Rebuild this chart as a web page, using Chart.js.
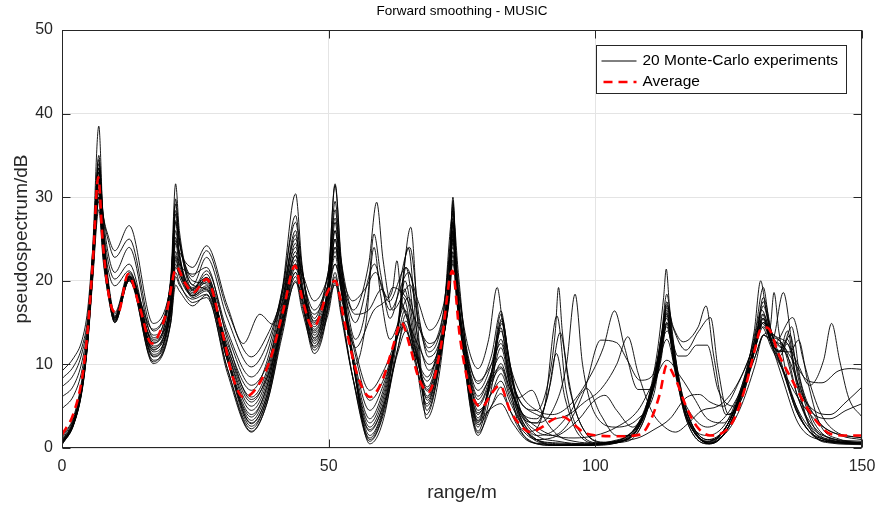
<!DOCTYPE html>
<html>
<head>
<meta charset="utf-8">
<title>Forward smoothing - MUSIC</title>
<script src="https://cdn.jsdelivr.net/npm/chart.js@4.4.1/dist/chart.umd.min.js"></script>
<style>
  html, body { margin: 0; padding: 0; background: #fff; }
</style>
</head>
<body>
<canvas id="music" width="878" height="509"></canvas>
<script>
/* ---------- data: [range in m, pseudospectrum in dB] ---------- */
const titleText = 'Forward smoothing - MUSIC';
const xTitle = 'range/m';
const yTitle = 'pseudospectrum/dB';
const seriesNames = ['20 Monte-Carlo experiments', 'Average'];
const xTicks = [0, 50, 100, 150];
const yTicks = [0, 10, 20, 30, 40, 50];

const mc01 = [[0,9.2],[2.2,10.8],[3.8,13],[4.8,16.5],[5.8,24],[6.9,33],[7.7,28],[8.6,25.5],[9.9,23.6],[12.6,26.6],[17.1,14.9],[20.4,19.5],[21.3,24.8],[22,23.5],[24.5,21.6],[27.1,24.2],[31,17],[34,12.5],[37.1,16],[39.5,14.8],[41.3,17.5],[43.8,23],[45,21],[47.3,17.6],[49.9,20.5],[51.2,24],[52.3,21],[54.5,17.6],[56.8,19],[58.8,21],[61.3,17.5],[64.5,21.6],[66.8,17.5],[68.9,14.1],[71.5,17],[73.3,24],[74.3,19],[76,12.5],[78,9.5],[80,13],[81.6,19.2],[82.6,15],[84,10],[86,6.5],[89,4.5],[92,4],[95,5],[98.5,8],[101.5,12],[103.6,16.4],[105.5,12],[108,7],[110.5,7],[113.4,13],[115.5,7.5],[118,4],[121,2.5],[124,3.5],[127,6.5],[130,11],[131.5,13.5],[133.5,12.5],[137,15.6],[139,10.5],[142,4.5],[145,2],[150,1.2]];
const mc02 = [[0,8.3],[2.2,9.8],[3.8,12.2],[4.8,15.5],[5.8,23.5],[6.9,34],[7.7,28],[8.6,25],[9.9,22.8],[12.6,25],[17.1,14],[20.4,20],[21.3,27.2],[22,24.5],[24.5,20.5],[27.1,23.6],[31,16.5],[35.5,10.9],[38.5,13.5],[41.3,18],[43.8,24],[45,20.5],[47.3,16.5],[49.9,19.5],[51.2,22],[52.3,20],[55,15],[58.6,22],[60,19],[61.5,16.5],[65,21],[67,15],[68.7,12],[71.3,15.5],[73.3,25],[74.3,19],[76,11.5],[78,7.7],[80.5,11],[82.3,16.4],[83.5,12],[85.5,6],[88.1,6.9],[90.5,3.5],[93,1.5],[96,0.8],[100,0.6],[104,0.8],[108,1.2],[111,2.2],[114,3.5],[117,6],[119.5,6.4],[121.5,5.5],[124,5],[127,8],[130,13],[131.3,16],[133,13],[135.5,12],[138,6],[141,2.5],[145,1],[150,0.6]];
const mc03 = [[0,7.3],[2.2,8.8],[3.8,11.5],[4.8,15],[5.8,23.5],[6.9,35],[7.7,28],[8.6,23.5],[9.9,21],[12.6,24],[17.1,13.2],[20.4,20],[21.3,28.4],[22,25],[24.5,19.5],[27.1,22.8],[31,15.5],[35.5,9.7],[38.5,12.5],[41.3,18.5],[43.8,25],[45,21],[47.3,15.5],[49.9,21],[51.2,26],[52.3,22],[55,13],[57.3,18],[58.5,25.6],[59.7,21],[61.5,15.5],[65.2,24],[67,15.5],[68.7,10.9],[71.5,15],[73.3,26.5],[74.3,20],[76,11],[78,6.9],[80.5,10],[82.5,15.2],[84,10],[86,4.5],[89,2],[92,1.5],[95,3],[98,7],[101,12.9],[104,12.6],[106,10.5],[108.4,8.1],[110.5,8.5],[113.5,14],[115.5,8],[118,3],[121,1],[124,1.5],[127,4.5],[130,10],[131.5,13.5],[133.2,13],[135.25,18.6],[137,12],[140,4.5],[143,1.5],[147,0.8],[150,0.7]];
const mc04 = [[0,6.1],[2.2,7.5],[3.8,10.5],[4.8,14.5],[5.8,23],[6.9,33.5],[7.7,27],[8.6,22.5],[9.9,20.2],[12.6,22],[17.1,12.5],[20.4,20],[21.3,29.2],[22,25],[24.5,19],[27.1,21.2],[31,14],[35.5,8.5],[38.5,11.5],[41.3,19],[43.8,27],[45,21.5],[47.3,15],[49.9,21],[51.2,27.5],[52.3,22.5],[54.6,16.5],[57.5,22],[59,29.4],[60.2,22.5],[62,16.5],[65.3,19.5],[67,14.5],[68.8,11.5],[71.5,16],[73.3,28],[74.3,21],[76,10.5],[78,5.3],[80.5,9],[82.5,14.9],[84,9.5],[86,4.5],[89,3],[92,4.5],[94.6,10],[96.2,18.4],[97.6,10],[100,4],[104,2.5],[108,3.5],[111,6.5],[113.4,15],[115.5,11],[117,11],[119,12.3],[121,12.3],[123,7],[126,5],[129,10],[131.2,16.5],[133,13.5],[135,12.5],[137.5,7],[140,3],[144,1.2],[150,0.8]];
const mc05 = [[0,4.7],[2.2,6.3],[3.8,9.5],[4.8,14],[5.8,22.5],[6.9,32.5],[7.7,26],[8.6,21.5],[9.9,19.4],[12.6,21.2],[17.1,11.7],[20.4,17],[21.3,22.8],[22,21],[24.5,18.2],[27.1,20.4],[31,13.5],[35.5,7.5],[38.5,10],[41.3,16.5],[43.8,22],[45,19],[47.3,14.5],[49.9,17.5],[51.2,19.5],[52.5,17.5],[55,12],[58.5,16.5],[60.5,17.5],[62,19],[62.8,22.4],[63.6,18],[65,15],[67,12],[68.8,10],[71.5,14],[73.3,23],[74.3,17.5],[76,11],[78,8],[80.5,10],[82.3,12.5],[84,8.5],[86,5.5],[89,4],[92,3.5],[95,4],[98,5.5],[101,7],[104,10],[106.1,13.3],[108,9],[110.5,4.5],[113,2.5],[115,1.9],[117.5,3],[120,4.5],[123,5],[126,7],[129,11],[131,15],[132.5,14],[135,12.5],[137.5,10],[140,8],[142.5,7.8],[145.5,9.2],[148,9.5],[150,9.4]];
const mc06 = [[0,1.4],[2.2,3.8],[3.8,8.5],[4.8,14],[5.8,24.5],[6.9,38.5],[7.7,27],[8.6,20.5],[9.9,16.2],[12.6,21],[17.1,13.5],[20.4,20.5],[21.3,31.6],[22,26],[24.5,20],[27.1,19.6],[31,12.5],[35.5,6.9],[38.5,10.5],[41.3,19],[43.8,30.4],[45,22],[47.3,13.5],[49.9,20],[51.2,31.6],[52.3,23],[54.5,11],[57.7,0.5],[60.5,4],[63,14],[65.4,26.4],[66.8,14],[68.3,3.5],[71,10],[72.6,21],[73.3,30],[74,21],[75.5,10],[78,1.5],[80.5,7],[82.3,14.4],[83.6,9],[85.5,3],[88,0.8],[92,0.3],[97,0.3],[102,0.5],[106,1.5],[109,4],[111.5,11],[112.8,18],[113.3,21.4],[113.9,17],[115.5,9],[118,3],[121.5,0.5],[124.5,2],[127.5,7],[129.8,14],[131,20],[132,16.5],[134,11.5],[136,8],[139,3],[143,0.8],[150,0.5]];
const mc07 = [[0,1.2],[2.2,3.6],[3.8,8],[4.8,13.5],[5.8,23],[6.9,33],[7.7,26],[8.6,20],[9.9,16],[12.6,20.6],[17.1,12.8],[20.4,19.5],[21.3,29.8],[22,25],[24.5,19.5],[27.1,19],[31,12],[35.5,6.1],[38.5,9.5],[41.3,18.5],[43.8,27.8],[45,21.5],[47.3,13],[49.9,20],[51.2,31.4],[52.3,22.5],[54.5,10.5],[57.7,1],[60.5,5],[63,15],[64.9,24],[66.5,14],[68.4,4.5],[71,11],[72.6,20],[73.3,29],[74,20.5],[75.5,10.5],[78,2],[80.5,8.5],[82.3,16],[83.6,10],[85.5,4],[88,2],[90.5,5],[92.8,15.8],[94.5,7],[97,2],[101,0.6],[106,1],[109.5,4.5],[112,11],[113.4,14.5],[114.8,10],[117,4],[121,0.8],[124.5,2.5],[127.5,7.5],[130,14],[131.5,19.2],[132.6,15],[134.5,11],[137,6],[140,2.5],[144,0.8],[150,0.6]];
const mc08 = [[0,1],[2.2,3.4],[3.8,7.8],[4.8,13.5],[5.8,22.5],[6.9,32],[7.7,25],[8.6,19.5],[9.9,15.8],[12.6,20.5],[17.1,12],[20.4,16.5],[21.3,21.6],[22,20.8],[24.5,18.8],[27.1,20],[31,12],[35.5,5.5],[38.5,9],[41.3,17.5],[43.8,26],[45,20],[47.3,12.5],[49.9,19],[51.2,29.5],[52.3,21.5],[54.5,10.5],[57.7,1.5],[60.5,5.5],[63,14.5],[64.5,21.6],[66.3,13.5],[68.4,5],[71,11],[72.6,19.5],[73.3,28.5],[74,20],[75.5,10.5],[78,2.5],[80.5,9],[82.5,15.5],[84,9.5],[86,3.5],[89,1],[93,0.5],[98,0.4],[103,0.6],[107,1.8],[110,5.5],[112.3,13],[113.4,18.4],[114.5,13],[116.5,5],[119,1.5],[121.5,0.6],[124.5,2],[127.5,6.5],[130,12.5],[131.5,17.5],[133.2,12.5],[134.5,11.5],[136,14],[137.5,9],[140,3],[144,1],[150,0.5]];
const mc09 = [[0,0.9],[2.2,3.3],[3.8,7.8],[4.8,13.2],[5.8,22],[6.9,31.5],[7.7,25],[8.6,19.5],[9.9,15.6],[12.6,20.4],[17.1,11.2],[20.4,17.5],[21.3,27],[22,23],[24.5,18],[27.1,18.8],[31,11.5],[35.5,5],[38.5,8.5],[41.3,17],[43.8,25.5],[45,19.5],[47.3,12],[49.9,18.5],[51.2,28.5],[52.3,21],[54.5,10.5],[57.7,2],[60.5,6],[63,14.5],[64.3,20],[66.2,13],[68.5,5.7],[71,11.5],[72.6,19],[73.3,27.5],[74,19.5],[75.5,11],[78,3],[80.5,9],[82.3,14],[84,9],[86.5,5],[89,4.5],[91.5,9],[92.5,14],[93.1,19.2],[93.8,14],[95.5,6.5],[98,2],[102,0.6],[106,0.8],[109.5,4],[112,11],[113.4,16.8],[114.8,11.5],[117,4.5],[121,0.8],[124.5,2.5],[127.5,7],[130,12.5],[131.3,15.5],[133,12.5],[134.5,11.5],[136,13],[138,7.5],[141,4.5],[144,4],[147,5.5],[150,7.3]];
const mc10 = [[0,0.8],[2.2,3.2],[3.8,7.6],[4.8,13],[5.8,23.5],[6.9,34.5],[7.7,26.5],[8.6,20],[9.9,15.5],[12.6,20.6],[17.1,10.9],[20.4,16.5],[21.3,24.5],[22,22],[24.5,19],[27.1,20.2],[31,11.5],[35.5,4.5],[38.5,8],[41.3,16.5],[43.8,24.5],[45,18.5],[47.3,11.7],[49.9,17.5],[51.2,27],[52.3,20],[54.5,10.5],[57.7,2.5],[60.5,6.5],[63,14.5],[64.2,19],[66,13],[68.5,6.2],[71,12],[72.6,19],[73.3,27],[74,19.5],[75.5,11],[78,3.3],[80.5,8.5],[82.3,13],[84,8],[86.5,3.5],[89,3],[91.5,7.5],[93.4,13.8],[95.2,7],[98,2],[102,0.7],[106,1],[109.5,4.5],[112,11],[113.4,17.2],[114.6,14.5],[116.5,12.7],[119.3,14.5],[120.75,17],[122.2,11],[124.5,4],[127.5,6],[130,12],[131.5,16],[133,13],[135,9.5],[138,4],[142,1.2],[150,0.6]];
const mc11 = [[0,0.7],[2.2,3.1],[3.8,7.5],[4.8,13],[5.8,22],[6.9,31],[7.7,24.5],[8.6,19.5],[9.9,15.3],[12.6,20.3],[17.1,10.5],[20.4,15.5],[21.3,22.5],[22,21],[24.5,18.4],[27.1,19.4],[31,11],[35.5,4],[38.5,7.5],[41.3,16],[43.8,23.5],[45,18],[47.3,11.3],[49.9,17],[51.2,26],[52.3,19.5],[54.5,10.5],[57.7,3],[60.5,7],[63,14.5],[64,18],[65.8,13],[68.5,6.8],[71,12],[72.6,18.5],[73.3,26],[74,19],[75.5,11],[78,3.6],[80.5,8],[82.3,12],[84,7.5],[86.5,3],[89,1],[93,0.4],[98,0.4],[103,0.7],[107,2],[110,6],[112.3,12.5],[113.4,17.5],[114.5,12.5],[116.5,5],[119,1.5],[121.5,0.6],[124.5,2.5],[127.5,7],[130,12.5],[131.5,17],[133.2,12.5],[134.8,11.5],[136.5,13.5],[138,8.5],[141,2.5],[145,0.8],[150,0.5]];
const mc12 = [[0,0.6],[2.2,3],[3.8,7.4],[4.8,12.8],[5.8,21.5],[6.9,30.5],[7.7,24],[8.6,19.5],[9.9,15.2],[12.6,20.2],[17.1,10.1],[20.4,15],[21.3,20.5],[22,19.5],[24.5,17.8],[27.1,18.4],[31,10.5],[35.5,3.7],[38.5,7.5],[41.3,15.5],[43.8,22.5],[45,19],[47.3,13.8],[49.9,18],[51.2,25],[52.3,19],[54.5,11],[57.7,3.5],[60.5,7.5],[63,14.5],[63.8,17],[65.8,12.5],[68.5,7.3],[71,12.5],[72.6,18.5],[73.3,25.5],[74,18.5],[75.5,11],[78,4],[80.5,7.5],[82.3,10.1],[84,7],[86.5,4],[89,3.5],[91,6],[92.7,11.3],[94.3,6],[97,1.5],[101,0.5],[105,0.8],[109,3.5],[112,10],[113.4,15.8],[114.8,10.5],[117,4],[121,0.7],[124.5,2.5],[127.5,6.5],[130,11],[131.5,13.5],[132.8,14.5],[133.5,18.6],[134.4,14],[136.5,7],[139.5,2.5],[143,0.8],[150,0.5]];
const mc13 = [[0,0.6],[2.2,3],[3.8,7.5],[4.8,13],[5.8,22.5],[6.9,32.5],[7.7,25.5],[8.6,20],[9.9,15.4],[12.6,20.5],[17.1,11.5],[20.4,16.5],[21.3,23.5],[22,21.5],[24.5,18.6],[27.1,19.8],[31,11],[35.5,3.3],[38.5,7],[41.3,15],[43.8,22],[45,19],[47.3,14.2],[49.9,18.5],[51.2,24],[52.3,20],[55,10],[57,15],[58.5,24],[59.7,18.5],[61.5,13],[65,18],[67,12.5],[68.8,9.3],[71.5,14],[73.3,24.5],[74.3,18],[76,10],[78,4.5],[80.5,6.5],[82.3,8.9],[84,6],[86.5,2.5],[89,0.8],[93,0.4],[98,0.4],[103,0.6],[107,1.8],[110,5.5],[112.3,12],[113.4,17],[114.5,14.5],[117,11.7],[119.3,13.9],[121.6,15.6],[123,9.5],[125,4],[127.5,6],[130,12],[131.5,15.5],[133,12.5],[135,9.5],[138,4],[142,1.2],[150,0.6]];
const mc14 = [[0,0.5],[2.2,2.9],[3.8,7.2],[4.8,12.5],[5.8,21],[6.9,30],[7.7,23.5],[8.6,19],[9.9,15],[12.6,20.1],[17.1,12.2],[20.4,18],[21.3,26],[22,23],[24.5,18.9],[27.1,20.8],[31,11],[35.5,2.9],[38.5,6.5],[41.3,15],[43.8,21.5],[45,19],[47.3,14.8],[49.9,18.5],[51.2,23],[52.3,19],[54.5,12.5],[57.7,5.7],[60.5,8.5],[63,13.5],[64,15],[66,11.5],[68.5,8],[71,13],[72.6,18],[73.3,23.5],[74,18],[75.5,11.5],[78,5],[80.5,8],[82.3,9.5],[84,6.5],[86.5,3],[89,1.5],[92,2],[95,4],[98.4,7.1],[101,4],[104,1.5],[107,1.5],[110,5],[112.3,11.5],[113.4,16.2],[114.5,12],[116.5,5],[119,1.5],[121.5,0.7],[124.5,2.5],[127.5,7],[130,12.5],[131.5,15],[133.5,13],[136,11],[138.5,7],[141,4],[144,3.5],[147,4.5],[150,5.3]];
const mc15 = [[0,0.5],[2.2,2.9],[3.8,7.3],[4.8,13],[5.8,23],[6.9,33.5],[7.7,26],[8.6,20],[9.9,15.7],[12.6,20.8],[17.1,12.6],[20.4,18],[21.3,25.2],[22,22.5],[24.5,19.2],[27.1,20.4],[31,10.5],[35.5,2.6],[38.5,6],[41.3,14.5],[43.8,21],[45,19],[47.3,15.2],[49.9,18.5],[51.2,22],[52.3,19],[54.5,13],[57.7,6.9],[60.5,9.5],[63,13.5],[64,14.5],[66,11.5],[68.5,8.5],[71,13],[72.6,17.5],[73.3,22.5],[74,17.5],[75.5,12],[78,5.8],[80.5,9],[82.3,11],[84,7.5],[86.5,3.5],[89,1.5],[93,0.8],[98,0.5],[103,0.7],[107,2],[110,5.5],[112.3,11.5],[113.4,16.5],[114.5,12],[116.5,5],[119,1.5],[121.5,0.5],[124.5,2],[127.5,6.5],[130,12],[131.5,15.5],[133,12.5],[135,8.5],[138,3],[142,1],[150,0.5]];
const mc16 = [[0,0.4],[2.2,2.8],[3.8,7],[4.8,12.5],[5.8,21],[6.9,29.5],[7.7,23],[8.6,18.5],[9.9,15.1],[12.6,20],[17.1,11.8],[20.4,16],[21.3,21],[22,19.8],[24.5,17.4],[27.1,18],[31,9.5],[35.5,2.3],[38.5,6],[41.3,14.5],[43.8,21],[45,17.5],[47.3,13.2],[49.9,17],[51.2,21],[52.3,17],[54.5,8.5],[57.7,0.8],[60.5,4.5],[63,12],[64.5,16],[66.3,10.5],[68.3,4],[71,11],[72.6,20.5],[73.3,29.5],[74,20.5],[75.5,10],[78,1.8],[80.5,5],[82.3,7.3],[84,4.5],[86.5,1.5],[89,0.5],[94,0.3],[99,0.3],[104,0.6],[108,2.5],[111,8],[113.4,16],[114.8,10],[117,3.5],[121,0.5],[124.5,2],[127.5,6.5],[130,12],[131.5,14.5],[133.5,12],[136.5,11.5],[138.1,12.9],[139.8,8],[142,3],[146,1],[150,0.6]];
const mc17 = [[0,0.4],[2.2,2.8],[3.8,7.2],[4.8,12.8],[5.8,22],[6.9,31],[7.7,24.5],[8.6,19.5],[9.9,15.6],[12.6,20.4],[17.1,13],[20.4,17],[21.3,22],[22,20.5],[24.5,18.2],[27.1,19],[31,9.5],[35.5,2],[38.5,5.5],[41.3,14],[43.8,20.5],[45,17],[47.3,12.8],[49.9,16.5],[51.2,20.5],[52.3,16.5],[54.5,8.5],[57.7,1.2],[60.5,5],[63,12],[64.5,15.2],[66.3,10.5],[68.4,5.3],[71,11.5],[72.6,19],[73.3,27],[74,19],[75.5,10.5],[78,2.8],[80.5,5],[82.3,6.5],[84,4.5],[86.5,2],[89,1],[93,1.5],[97,3.5],[99.5,5.5],[101.8,6.3],[104,4.5],[107,2.5],[110,5.5],[112.3,11],[113.4,14.8],[114.8,10],[117,4],[121,1.5],[124.5,3],[127.5,7.5],[130,12.5],[131.5,15],[133.5,13.5],[136,12.5],[138,10],[140.2,7.5],[142.8,10.5],[144.3,14.9],[145.8,10.5],[147.5,6],[150,3.7]];
const mc18 = [[0,0.5],[2.2,2.9],[3.8,7],[4.8,12.3],[5.8,20.5],[6.9,28.5],[7.7,22.5],[8.6,18.5],[9.9,15],[12.6,20],[17.1,10.3],[20.4,15],[21.3,19.5],[22,18.8],[24.5,17],[27.1,18.3],[31,9],[35.5,1.9],[38.5,5.5],[41.3,13.5],[43.8,20],[45,16.5],[47.3,12.2],[49.9,16],[51.2,19.8],[52.3,16],[54.5,8.5],[57.7,2.2],[60.5,5.5],[63,11.5],[64.5,14],[66.3,10],[68.5,6],[71,11.5],[72.6,18.5],[73.3,26],[74,18.5],[75.5,10.5],[78,3.2],[80,4.5],[82.3,5.3],[84.5,3],[87,1],[90,0.5],[95,0.3],[100,0.4],[105,0.8],[108.5,3],[111,8.5],[113.4,15.5],[114.8,10],[117,3.5],[121,0.5],[124.5,2],[127.5,6.5],[130,12],[131.5,15],[133.2,12],[134.6,11],[136,12.5],[137.8,7.5],[140.5,2],[144,0.6],[150,0.4]];
const mc19 = [[0,0.6],[2.2,3],[3.8,7.5],[4.8,13],[5.8,22.5],[6.9,32],[7.7,25],[8.6,19.5],[9.9,15.5],[12.6,20.4],[17.1,14.2],[20.4,18.5],[21.3,23],[22,22],[24.5,20.8],[27.1,21.6],[31,13],[35.5,5.8],[38.5,8.5],[41.3,14.5],[43.8,19.8],[45,18.5],[47.3,16],[49.9,19.5],[51.2,23.5],[52.3,20.5],[55,16],[57.5,16.5],[60,19],[61,18],[62,19.2],[64.5,18],[66.8,14.5],[68.9,12.5],[71.5,15],[73.3,22],[74.3,17.5],[76,10.5],[78,6.2],[80,8],[82.3,9.7],[84,7],[86.5,4],[89,2.5],[92,1.5],[96,1.2],[100,1.5],[104,2.5],[108,4.5],[111,8],[113.4,10.5],[116,8.5],[118.5,6],[121,3.5],[124,3],[127.5,7],[130,12.5],[131.2,14.5],[133,12],[135,9.5],[138,6],[141,3.5],[144,2],[150,1.2]];
const mc20 = [[0,0.7],[2.2,3.1],[3.8,7.4],[4.8,12.7],[5.8,21],[6.9,30],[7.7,23.5],[8.6,19],[9.9,15.3],[12.6,20.2],[17.1,11],[20.4,18],[21.3,28],[22,23.5],[24.5,18.2],[27.1,19.2],[31,10.5],[35.5,3],[38.5,6.5],[41.3,15.5],[43.8,23],[45,19],[47.3,14],[49.9,18.5],[51.2,25],[52.3,19.5],[54.5,11.5],[57.7,4.5],[60.5,8],[63,13.5],[64.3,16.5],[66.2,12],[68.5,7],[71,12],[72.6,18],[73.3,25],[74,18.5],[75.5,11],[78,4.2],[80.5,6.5],[82.3,8],[84,5.5],[86.5,2.5],[89,1],[93,0.6],[98,0.5],[103,0.8],[107,2],[110,5.5],[112.3,10.5],[113.4,15],[114.8,10.5],[117,4.5],[121,1],[124.5,2.5],[127.5,7],[130,12.5],[131.5,18],[133.2,13.5],[135,12],[136.8,14.5],[138.5,8],[141.5,3.5],[146,1.5],[150,1]];
const avg = [[0,1.6],[2.2,4.2],[3.8,8.5],[4.8,14],[5.8,22.5],[6.8,32.4],[7.6,25],[8.6,19],[9.6,16.4],[10.5,16.2],[12.4,20.8],[14.5,17],[16.8,12.5],[19.5,16],[21.5,21.6],[23,19.8],[24.6,18.6],[27.1,20.2],[30,14],[32,8.5],[34,6.1],[36,6.8],[39,10.5],[41.5,16.5],[43.7,21.8],[45,18],[47.1,14.4],[49.9,18.8],[51.2,20],[53,15],[55.5,8.5],[57.75,6.1],[60,8],[62,12],[63.6,15],[65.3,12],[66.8,8.5],[68.7,6.7],[71,12],[73.2,21.2],[74.6,13.3],[76.5,7],[78.7,4.9],[80.5,6.5],[82.1,7.5],[84,4.5],[86,2.7],[87.75,1.9],[90,2.5],[92,3.4],[94,3.7],[96,2.8],[98,1.8],[100.3,1.5],[104,1.4],[108.4,1.6],[110.5,3.5],[112.1,6.5],[113.4,9.9],[115,8.3],[117,5],[119,2.6],[121.5,1.5],[123.5,1.7],[125.9,3.3],[128,7],[130,12],[130.9,14.1],[132.2,14.4],[134.6,10.9],[137,8],[139.6,4.9],[142,2.8],[144,1.7],[147,1.5],[150,1.5]];

const runs = [mc01, mc02, mc03, mc04, mc05, mc06, mc07, mc08, mc09, mc10,
              mc11, mc12, mc13, mc14, mc15, mc16, mc17, mc18, mc19, mc20];

/* ---------- look ---------- */
const FONT = '"Liberation Sans", Arial, Helvetica, sans-serif';
const AXIS = '#262626';
const GRID = '#e4e4e4';
const RED = '#ff0000';
const RED_DASH = [9, 6];

const datasets = runs.map(d => ({
  label: seriesNames[0],
  data: d,
  borderColor: '#000000',
  borderWidth: 0.9,
  pointRadius: 0,
  cubicInterpolationMode: 'monotone',
  order: 1
}));
datasets.push({
  label: seriesNames[1],
  data: avg,
  borderColor: RED,
  borderWidth: 2.6,
  borderDash: RED_DASH,
  pointRadius: 0,
  cubicInterpolationMode: 'monotone',
  order: 0
});

// box, inward ticks, title and legend the MATLAB way
const frame = {
  id: 'frame',
  afterDraw(chart) {
    const {ctx, chartArea: a} = chart;
    const sx = chart.scales.x, sy = chart.scales.y;
    const L = Math.round(a.left) + 0.5, R = Math.round(a.right) - 0.5;
    const T = Math.round(a.top) + 0.5, B = Math.round(a.bottom) - 0.5;
    ctx.save();
    ctx.strokeStyle = AXIS;
    ctx.lineWidth = 1;
    ctx.strokeRect(L, T, R - L, B - T);
    ctx.beginPath();
    xTicks.forEach(v => {
      const px = Math.round(sx.getPixelForValue(v)) + 0.5;
      ctx.moveTo(px, B); ctx.lineTo(px, B - 8);
      ctx.moveTo(px, T); ctx.lineTo(px, T + 8);
    });
    yTicks.forEach(v => {
      const py = Math.round(sy.getPixelForValue(v)) + 0.5;
      ctx.moveTo(L, py); ctx.lineTo(L + 8, py);
      ctx.moveTo(R, py); ctx.lineTo(R - 8, py);
    });
    ctx.stroke();

    // title
    ctx.fillStyle = '#000';
    ctx.font = '13.5px ' + FONT;
    ctx.textAlign = 'center';
    ctx.textBaseline = 'middle';
    ctx.fillText(titleText, (a.left + a.right) / 2, 11);

    // legend
    const bw = 250, bh = 48;
    const bx = Math.floor(a.right - 16 - bw) + 0.5, by = Math.round(a.top + 15) + 0.5;
    ctx.fillStyle = '#fff';
    ctx.fillRect(bx, by, bw, bh);
    ctx.strokeStyle = AXIS;
    ctx.strokeRect(bx, by, bw, bh);
    const rows = [by + 15.5, by + 36.5];
    ctx.lineWidth = 1;
    ctx.strokeStyle = '#000';
    ctx.beginPath(); ctx.moveTo(bx + 5, rows[0]); ctx.lineTo(bx + 40, rows[0]); ctx.stroke();
    ctx.lineWidth = 2.6;
    ctx.strokeStyle = RED;
    ctx.setLineDash(RED_DASH);
    ctx.beginPath(); ctx.moveTo(bx + 7, rows[1]); ctx.lineTo(bx + 40, rows[1]); ctx.stroke();
    ctx.setLineDash([]);
    ctx.fillStyle = '#000';
    ctx.font = '15.5px ' + FONT;
    ctx.textAlign = 'left';
    ctx.fillText(seriesNames[0], bx + 46, rows[0]);
    ctx.fillText(seriesNames[1], bx + 46, rows[1]);
    ctx.restore();
  }
};

new Chart(document.getElementById('music'), {
  type: 'line',
  data: { datasets },
  plugins: [frame],
  options: {
    responsive: false,
    animation: false,
    devicePixelRatio: 1,
    events: [],
    layout: { padding: { top: 30, right: 16, bottom: 0, left: 0 } },
    plugins: { legend: { display: false }, tooltip: { enabled: false }, title: { display: false } },
    scales: {
      x: {
        type: 'linear', min: 0, max: 150,
        afterBuildTicks: s => { s.ticks = xTicks.map(v => ({ value: v })); },
        afterFit: s => { s.height = 61; s.paddingLeft = 0; s.paddingRight = 0; },
        grid: { color: GRID, drawTicks: false },
        border: { display: false },
        ticks: { color: AXIS, font: { family: FONT, size: 16 }, padding: 9, maxRotation: 0 },
        title: { display: true, text: xTitle, color: AXIS, font: { family: FONT, size: 19 }, padding: { top: 0, bottom: 5 } }
      },
      y: {
        type: 'linear', min: 0, max: 50,
        afterBuildTicks: s => { s.ticks = yTicks.map(v => ({ value: v })); },
        afterFit: s => { s.width = 62; s.paddingTop = 0; s.paddingBottom = 0; },
        grid: { color: GRID, drawTicks: false },
        border: { display: false },
        ticks: { color: AXIS, font: { family: FONT, size: 16 }, padding: 9 },
        title: { display: true, text: yTitle, color: AXIS, font: { family: FONT, size: 19 }, padding: { top: 10, bottom: 0 } }
      }
    }
  }
});
</script>
</body>
</html>
